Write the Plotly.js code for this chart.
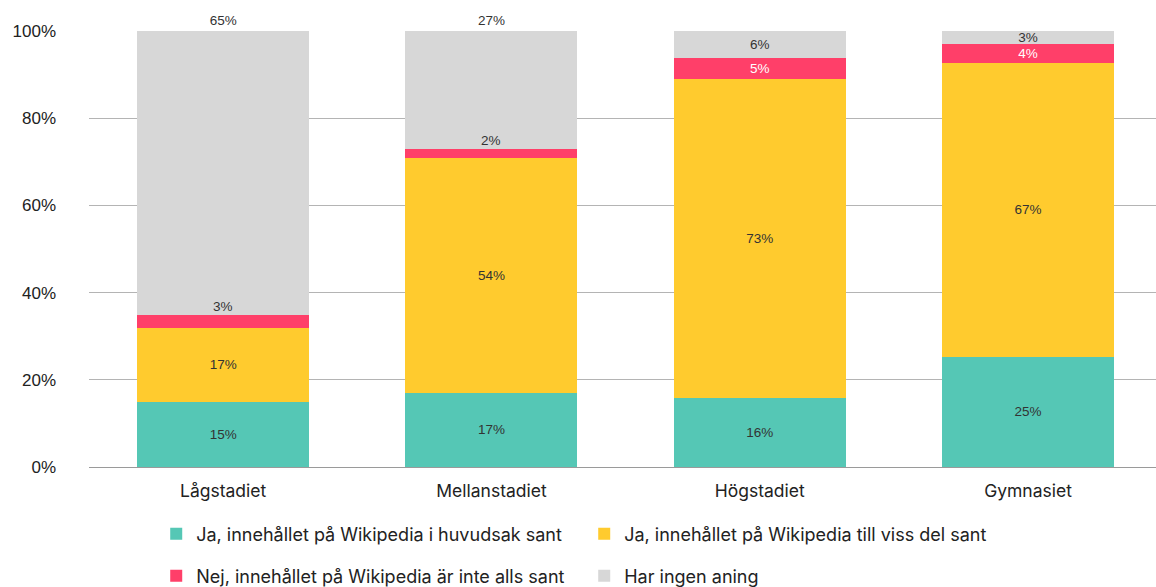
<!DOCTYPE html>
<html>
<head>
<meta charset="utf-8">
<script src="https://cdn.plot.ly/plotly-3.0.1.min.js"></script>
<style>html,body{margin:0;padding:0;background:#fff}#chart{width:1156px;height:587px}</style>
</head>
<body>
<div id="chart"></div>
<script>
const categories = ["Lågstadiet", "Mellanstadiet", "Högstadiet", "Gymnasiet"];
const seriesNames = [
  "Ja, innehållet på Wikipedia i huvudsak sant",
  "Ja, innehållet på Wikipedia till viss del sant",
  "Nej, innehållet på Wikipedia är inte alls sant",
  "Har ingen aning"
];
const huvudsakSant = [14.9, 17.0, 15.8, 25.3];
const vissDelSant = [17.0, 53.9, 73.2, 67.4];
const inteAllsSant = [3.0, 2.0, 4.9, 4.3];
const ingenAning = [65.1, 27.1, 6.1, 3.0];
const yTickVals = [0, 20, 40, 60, 80, 100];
const yTickText = ["0%", "20%", "40%", "60%", "80%", "100%"];

const colors = ["#55c7b5", "#ffcb2e", "#ff3f69", "#d7d7d7"];
const labelFont = {family: "Liberation Sans, Arial, sans-serif", size: 13.5, color: "#333333"};

// which labels sit above their segment instead of inside
const redAbove = [true, true, false, false];
const grayOutside = [true, true, false, false];

function fmt(v) { return Math.round(v) + "%"; }

const base = {type: "bar", x: categories, hoverinfo: "x+y+name", constraintext: "none",
  insidetextanchor: "middle", cliponaxis: false, textfont: labelFont};

const traces = [
  Object.assign({}, base, {name: seriesNames[0], y: huvudsakSant, marker: {color: colors[0]},
    text: huvudsakSant.map(fmt), textposition: "inside", legend: "legend"}),
  Object.assign({}, base, {name: seriesNames[1], y: vissDelSant, marker: {color: colors[1]},
    text: vissDelSant.map(fmt), textposition: "inside", legend: "legend"}),
  Object.assign({}, base, {name: seriesNames[2], y: inteAllsSant, marker: {color: colors[2]},
    text: inteAllsSant.map((v, i) => redAbove[i] ? "" : fmt(v)), textposition: "inside",
    insidetextfont: Object.assign({}, labelFont, {color: "#ffffff"}), legend: "legend2"}),
  Object.assign({}, base, {name: seriesNames[3], y: ingenAning, marker: {color: colors[3]},
    text: ingenAning.map(fmt), textposition: grayOutside.map(o => o ? "outside" : "inside"),
    outsidetextfont: labelFont, legend: "legend2"})
];

const annotations = categories.map((c, i) => redAbove[i] ? {
  x: c, y: huvudsakSant[i] + vissDelSant[i] + inteAllsSant[i], xref: "x", yref: "y",
  text: fmt(inteAllsSant[i]), showarrow: false, yanchor: "bottom", yshift: -1, font: labelFont
} : null).filter(a => a);

const legendFont = {family: "Inter, sans-serif", size: 18, color: "#222222"};
const layout = {
  width: 1156, height: 587,
  margin: {l: 89, r: 0, t: 31, b: 120},
  paper_bgcolor: "#ffffff", plot_bgcolor: "#ffffff",
  barmode: "stack", bargap: 0.359,
  font: {family: "Inter, sans-serif", color: "#222222"},
  xaxis: {range: [-0.5, 3.477], showgrid: false, zeroline: false, showline: false,
    ticks: "", tickfont: {family: "Inter, sans-serif", size: 17.5, color: "#222222"}, ticklabelstandoff: 11},
  yaxis: {range: [0, 100], tickvals: yTickVals, ticktext: yTickText, showgrid: true,
    gridcolor: "#b4b4b4", gridwidth: 1, zeroline: true, zerolinecolor: "#9a9a9a", showline: false,
    ticks: "", tickfont: {family: "Liberation Sans, Arial, sans-serif", size: 17, color: "#222222"},
    ticklabelstandoff: 32},
  showlegend: true,
  legend: {orientation: "h", xref: "paper", yref: "container", x: 0.063, y: 0.0903,
    xanchor: "left", yanchor: "middle", borderwidth: 0,
    entrywidth: 383, entrywidthmode: "pixels", font: legendFont, traceorder: "normal"},
  legend2: {orientation: "h", xref: "paper", yref: "container", x: 0.063, y: 0.0187,
    xanchor: "left", yanchor: "middle", borderwidth: 0,
    entrywidth: 383, entrywidthmode: "pixels", font: legendFont, traceorder: "normal"},
  annotations: annotations
};

Plotly.newPlot("chart", traces, layout, {displayModeBar: false, staticPlot: true});
</script>
</body>
</html>
